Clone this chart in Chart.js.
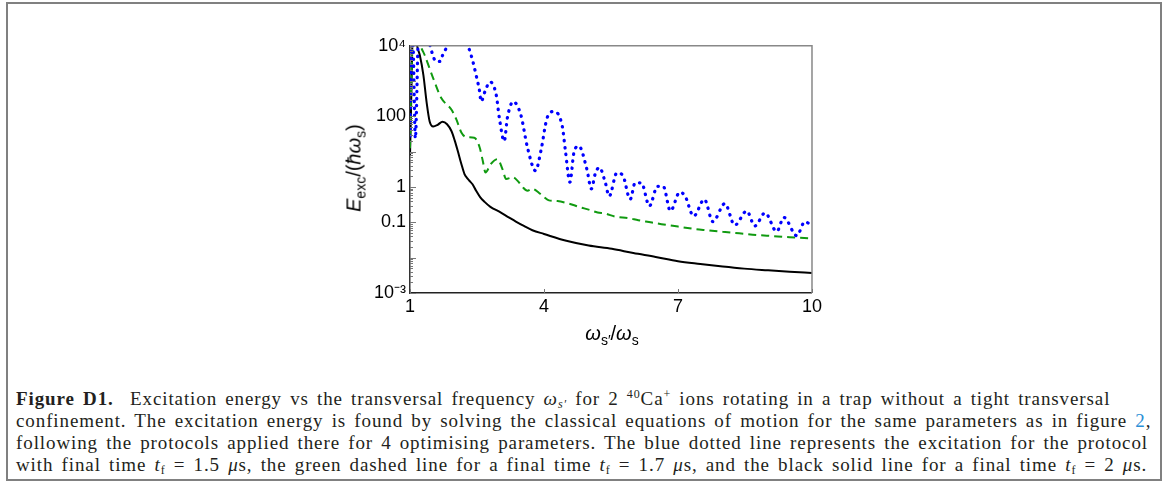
<!DOCTYPE html>
<html>
<head>
<meta charset="utf-8">
<script src="https://cdn.jsdelivr.net/npm/chart.js@4.4.1/dist/chart.umd.min.js"></script>
<style>
	body { margin: 0; width: 1174px; height: 483px; background: #fff; position: relative; overflow: hidden; }
	.frame { position: absolute; left: 6px; top: 2px; width: 1152px; height: 475px; border: 2px solid #808080; }
	#wrap { position: absolute; left: 340px; top: 31px; width: 485px; height: 292px; }
	.axis-title { position: absolute; font-family: "Liberation Sans", Arial, sans-serif; font-size: 20px; color: #000; white-space: nowrap; }
	.axis-title sub { font-size: 14px; vertical-align: -5px; line-height: 0; }
	#ytitle { left: 354px; top: 168px; transform: translate(-50%, -50%) rotate(-90deg); }
	#xtitle { left: 612px; top: 333px; transform: translate(-50%, -50%); }
	.caption { position: absolute; left: 16px; top: 388px; font-family: "Liberation Serif", "Times New Roman", serif; font-size: 19px; letter-spacing: 0.9px; word-spacing: 2.5px; line-height: 22px; color: #231f20; white-space: nowrap; }
	.caption sub { font-size: 12px; vertical-align: -3px; line-height: 0; }
	.caption sup { font-size: 12px; vertical-align: 7px; line-height: 0; }
	.caption .link { color: #2a8fd6; }
</style>
</head>
<body>
<div class="frame"></div>
<div id="wrap"><canvas id="chart01"></canvas></div>
<div class="axis-title" id="ytitle"><i>E</i><sub>exc</sub>/(<i>ħω</i><sub>s</sub>)</div>
<div class="axis-title" id="xtitle"><i>ω</i><sub>s′</sub>/<i>ω</i><sub>s</sub></div>
<div class="caption">
	<b>Figure D1.</b>&nbsp; Excitation energy vs the transversal frequency <i>ω</i><sub><i>s′</i></sub> for 2 <sup>40</sup>Ca<sup>+</sup> ions rotating in a trap without a tight transversal<br>
	confinement. The excitation energy is found by solving the classical equations of motion for the same parameters as in figure <span class="link">2</span>,<br>
	following the protocols applied there for 4 optimising parameters. The blue dotted line represents the excitation for the protocol<br>
	with final time <i>t</i><sub>f</sub> = 1.5 <i>μ</i>s, the green dashed line for a final time <i>t</i><sub>f</sub> = 1.7 <i>μ</i>s, and the black solid line for a final time <i>t</i><sub>f</sub> = 2 <i>μ</i>s.
</div>
<script>
// t_f = 1.5 us (blue, dotted)
const blueX = [1.00, 1.03, 1.06, 1.12, 1.19, 1.30, 1.45, 1.52, 1.58, 1.68, 1.73, 1.84, 1.95, 2.10, 2.20, 2.30,
	2.41, 2.48, 2.56, 2.59, 2.69, 2.79, 2.93, 3.00, 3.11, 3.18, 3.31, 3.48, 3.63, 3.81, 3.93, 4.07, 4.22,
	4.41, 4.48, 4.58, 4.67, 4.78, 4.96, 5.06, 5.15, 5.24, 5.37, 5.46, 5.63, 5.76, 5.93, 6.04, 6.18, 6.36,
	6.54, 6.67, 6.83, 7.04, 7.16, 7.35, 7.59, 7.78, 8.05, 8.27, 8.54, 8.72, 8.95, 9.21, 9.37, 9.66, 9.84, 10.0];
const blueY = [28, 20000, 20000, 24, 20000, 40000, 10000, 5000, 3600, 3600, 5400, 10000, 20000, 40000, 20000, 10000,
	3500, 1480, 500, 263, 560, 955, 410, 91, 20, 91, 263, 112, 13.2, 2.9, 10.5, 91, 138,
	52, 10.5, 1.38, 9.5, 14.5, 3.2, 0.89, 2.45, 3.6, 1.38, 0.55, 2.5, 2.2, 0.45, 1.32, 1.32, 0.29,
	1.05, 1.05, 0.21, 0.72, 0.55, 0.15, 0.45, 0.105, 0.34, 0.083, 0.21, 0.079, 0.186, 0.055, 0.138, 0.042, 0.105, 0.079];

// t_f = 1.7 us (green, dashed)
const greenX = [1.00, 1.03, 1.06, 1.15, 1.24, 1.33, 1.52, 1.70, 1.93, 2.04, 2.15, 2.26, 2.44, 2.56, 2.63, 2.69,
	2.81, 2.96, 3.07, 3.15, 3.30, 3.41, 3.52, 3.63, 3.74, 3.89, 4.00, 4.11, 4.30, 4.56, 4.80, 5.00, 5.20,
	5.37, 5.60, 5.89, 6.11, 6.35, 6.63, 7.00, 7.37, 7.63, 8.00, 8.37, 8.75, 9.11, 9.50, 10.0];
const greenY = [12.6, 1000, 20000, 32000, 10000, 5400, 1200, 331, 155, 81, 35, 26, 25, 13.2, 5.5, 2.6,
	4.5, 6.2, 3.2, 1.7, 1.9, 1.5, 1.0, 0.79, 0.89, 0.68, 0.52, 0.42, 0.40, 0.34, 0.27, 0.23, 0.19,
	0.178, 0.145, 0.132, 0.115, 0.102, 0.089, 0.076, 0.065, 0.060, 0.054, 0.049, 0.044, 0.041, 0.038, 0.035];

// t_f = 2 us (black, solid)
const blackX = [1.00, 1.02, 1.04, 1.06, 1.11, 1.16, 1.22, 1.30, 1.37, 1.44, 1.52, 1.62, 1.73, 1.83, 1.93, 2.00,
	2.07, 2.15, 2.22, 2.28, 2.33, 2.40, 2.48, 2.57, 2.67, 2.80, 3.00, 3.20, 3.37, 3.55, 3.74, 4.00, 4.50,
	5.00, 5.52, 6.00, 6.50, 7.00, 7.50, 8.00, 8.48, 9.00, 9.50, 10.0];
const blackY = [7.9, 100, 2000, 20000, 32000, 10000, 5400, 1480, 263, 72, 52, 58, 71, 60, 38, 21,
	10.5, 4.5, 2.34, 1.78, 1.51, 1.2, 0.79, 0.52, 0.38, 0.275, 0.2, 0.141, 0.105, 0.079, 0.060, 0.047, 0.030,
	0.022, 0.0178, 0.0135, 0.0105, 0.0079, 0.0066, 0.0056, 0.0049, 0.0044, 0.0040, 0.0037];

const xTicks = [1, 4, 7, 10];
const yTickValues = [0.001, 0.1, 1, 100, 10000];
const yTickLabels = ["10\u207B\u00B3", "0.1", "1", "100", "10\u2074"];

const toPoints = (xs, ys) => xs.map((x, i) => ({ x, y: ys[i] }));

const font = { family: "'Liberation Sans', Arial, sans-serif", size: 18 };

// Mathematica style frame: inward ticks, grey top and right edges
const frameTicks = {
	id: "frameTicks",
	afterDatasetsDraw(chart) {
		const { ctx, chartArea: area, scales } = chart;
		ctx.save();
		ctx.strokeStyle = "#888";
		ctx.lineWidth = 1.5;
		ctx.beginPath();
		ctx.moveTo(area.left, area.top);
		ctx.lineTo(area.right, area.top);
		ctx.lineTo(area.right, area.bottom);
		ctx.stroke();

		ctx.strokeStyle = "#777";
		ctx.lineWidth = 1;
		ctx.beginPath();
		for (let e = -3; e < 4; e++) {
			for (let m = 1; m < 10; m++) {
				const py = Math.round(scales.y.getPixelForValue(m * Math.pow(10, e))) + 0.5;
				const len = m === 1 ? 6 : 3;
				ctx.moveTo(area.left, py);
				ctx.lineTo(area.left + len, py);
			}
		}
		xTicks.forEach((v) => {
			const px = Math.round(scales.x.getPixelForValue(v)) + 0.5;
			ctx.moveTo(px, area.bottom);
			ctx.lineTo(px, area.bottom - 4);
		});
		ctx.stroke();
		ctx.restore();
	},
};

const data = {
	datasets: [
		{
			data: toPoints(blueX, blueY),
			borderColor: "#0000ff",
			borderWidth: 3.2,
			borderDash: [0.5, 6.5],
			borderCapStyle: "round",
		},
		{
			data: toPoints(greenX, greenY),
			borderColor: "#109a10",
			borderWidth: 2,
			borderDash: [8, 5],
		},
		{
			data: toPoints(blackX, blackY),
			borderColor: "#000",
			borderWidth: 2,
		},
	],
};

const options = {
	responsive: true,
	maintainAspectRatio: false,
	animation: false,
	events: [],
	cubicInterpolationMode: "monotone",
	pointRadius: 0,
	layout: { padding: { top: 12, right: 10, left: 0, bottom: 0 } },
	plugins: {
		legend: { display: false },
		tooltip: { enabled: false },
	},
	scales: {
		x: {
			type: "linear",
			min: 1,
			max: 10,
			afterFit: (scale) => { scale.height = 30; },
			ticks: { stepSize: 3, color: "#000", font, padding: 3, maxRotation: 0 },
			grid: { display: false, drawTicks: false },
			border: { display: true, color: "#222", width: 1.5 },
		},
		y: {
			type: "logarithmic",
			min: 0.001,
			max: 10000,
			afterFit: (scale) => { scale.width = 70; },
			afterBuildTicks: (scale) => { scale.ticks = yTickValues.map((value) => ({ value })); },
			ticks: {
				autoSkip: false,
				color: "#000",
				font,
				padding: 4,
				callback: (value) => yTickLabels[yTickValues.indexOf(value)] ?? "",
			},
			grid: { display: false, drawTicks: false },
			border: { display: true, color: "#333", width: 1.5 },
		},
	},
};

new Chart(document.querySelector("#chart01"), {
	type: "line",
	data,
	options,
	plugins: [frameTicks],
});
</script>
</body>
</html>
